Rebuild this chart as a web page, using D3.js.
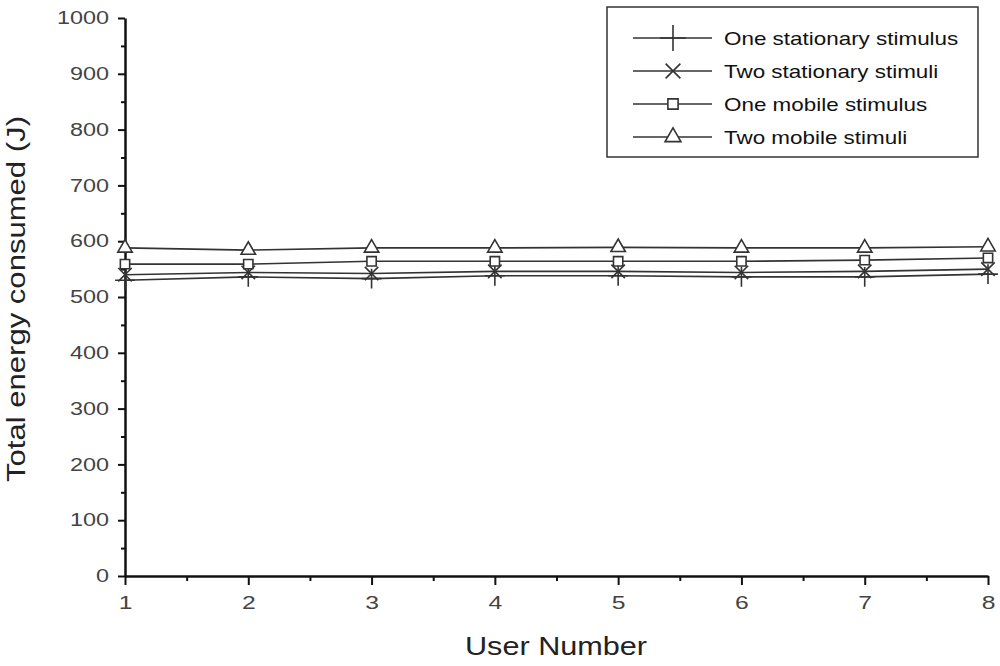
<!DOCTYPE html>
<html>
<head>
<meta charset="utf-8">
<script src="https://cdn.jsdelivr.net/npm/d3@7"></script>
<style>
  body { margin: 0; background: #fff; }
  svg { font-family: "Liberation Sans", Arial, sans-serif; }
</style>
</head>
<body>
<div id="canvas"></div>
<script>
// data
var users = [1, 2, 3, 4, 5, 6, 7, 8];
var oneStationary = [530, 536, 533, 538, 538, 536, 536, 541];
var twoStationary = [540, 544, 542, 546, 546, 544, 546, 550];
var oneMobile = [559, 559, 564, 564, 564, 564, 566, 570];
var twoMobile = [588, 584, 588, 588, 589, 588, 588, 590];
var seriesNames = ["One stationary stimulus", "Two stationary stimuli", "One mobile stimulus", "Two mobile stimuli"];
var yTicks = [0, 100, 200, 300, 400, 500, 600, 700, 800, 900, 1000];

var width = 1000, height = 666;

var svgContainer = d3.select("#canvas").append("svg")
	.attr("width", width)
	.attr("height", height);

var x = d3.scaleLinear().domain([1, 8]).range([125, 988]);
var y = d3.scaleLinear().domain([0, 1000]).range([576, 18]);

// the original picture looks stretched sideways, widen the text a bit
function widen(sel, k) {
	sel.each(function() {
		var len = this.getComputedTextLength();
		d3.select(this).attr("textLength", len * k).attr("lengthAdjust", "spacingAndGlyphs");
	});
}

// minor ticks first
svgContainer.append("g")
	.attr("transform", "translate(125,0)")
	.call(d3.axisLeft(y).tickValues(d3.range(50, 1000, 100)).tickSize(4).tickFormat(""))
	.call(g => g.select(".domain").remove())
	.selectAll("line").attr("stroke", "#111").attr("stroke-width", 2);

svgContainer.append("g")
	.attr("transform", "translate(0,576)")
	.call(d3.axisBottom(x).tickValues(d3.range(1.5, 8, 1)).tickSize(5).tickFormat(""))
	.call(g => g.select(".domain").remove())
	.selectAll("line").attr("stroke", "#111").attr("stroke-width", 2);

// major axes
var yAxis = svgContainer.append("g")
	.attr("transform", "translate(125,0)")
	.call(d3.axisLeft(y).tickValues(yTicks).tickFormat(d3.format("d")).tickSize(7).tickPadding(9).tickSizeOuter(0));
yAxis.select(".domain").attr("stroke", "#111").attr("stroke-width", 2.5);
yAxis.selectAll(".tick line").attr("stroke", "#111").attr("stroke-width", 2);
yAxis.selectAll(".tick text").attr("font-size", 18).attr("fill", "#444")
	.attr("font-family", "Liberation Sans, Arial, sans-serif")
	.call(widen, 1.3);

var xAxis = svgContainer.append("g")
	.attr("transform", "translate(0,576)")
	.call(d3.axisBottom(x).tickValues(users).tickFormat(d3.format("d")).tickSize(9).tickPadding(11).tickSizeOuter(0));
xAxis.select(".domain").attr("stroke", "#111").attr("stroke-width", 2.5);
xAxis.selectAll(".tick line").attr("stroke", "#111").attr("stroke-width", 2);
xAxis.selectAll(".tick text").attr("font-size", 19).attr("fill", "#444")
	.attr("font-family", "Liberation Sans, Arial, sans-serif")
	.call(widen, 1.3);

// axis titles
svgContainer.append("text")
	.attr("transform", "translate(25,299) rotate(-90)")
	.attr("text-anchor", "middle")
	.attr("font-size", 26)
	.attr("fill", "#222")
	.attr("textLength", 366)
	.attr("lengthAdjust", "spacingAndGlyphs")
	.text("Total energy consumed (J)");

svgContainer.append("text")
	.attr("x", 556).attr("y", 655)
	.attr("text-anchor", "middle")
	.attr("font-size", 25)
	.attr("fill", "#222")
	.attr("textLength", 182)
	.attr("lengthAdjust", "spacingAndGlyphs")
	.text("User Number");

// series
var allSeries = [oneStationary, twoStationary, oneMobile, twoMobile];
var symbols = [d3.symbolPlus, d3.symbolTimes, d3.symbolSquare2, d3.symbolTriangle2];
var symSizes = [130, 120, 110, 150];

var line = d3.line().x((d, i) => x(users[i])).y(d => y(d));

allSeries.forEach(function(vals, s) {
	svgContainer.append("path")
		.attr("d", line(vals))
		.attr("fill", "none")
		.attr("stroke", "#333")
		.attr("stroke-width", 1.6);

	svgContainer.append("g").selectAll("path")
		.data(vals)
		.join("path")
		.attr("transform", (d, i) => "translate(" + x(users[i]) + "," + y(d) + ")")
		.attr("d", d3.symbol().type(symbols[s]).size(symSizes[s]))
		.attr("fill", s >= 2 ? "#fff" : "none")
		.attr("stroke", "#333")
		.attr("stroke-width", 1.6);
});

// legend
var legend = svgContainer.append("g");
legend.append("rect")
	.attr("x", 607).attr("y", 7)
	.attr("width", 371).attr("height", 150)
	.attr("fill", "#fff")
	.attr("stroke", "#333")
	.attr("stroke-width", 1.5);

var rowY = [38, 71, 104, 137];
seriesNames.forEach(function(name, s) {
	legend.append("line")
		.attr("x1", 633).attr("x2", 712)
		.attr("y1", rowY[s]).attr("y2", rowY[s])
		.attr("stroke", "#333").attr("stroke-width", 1.6);
	legend.append("path")
		.attr("transform", "translate(673," + rowY[s] + ")")
		.attr("d", d3.symbol().type(symbols[s]).size(s == 0 ? 220 : symSizes[s] * 1.2)())
		.attr("fill", s >= 2 ? "#fff" : "none")
		.attr("stroke", "#333").attr("stroke-width", 1.6);
	legend.append("text")
		.attr("x", 724).attr("y", rowY[s] + 7)
		.attr("font-size", 19)
		.attr("fill", "#111")
		.text(name)
		.call(widen, 1.18);
});
</script>
</body>
</html>
